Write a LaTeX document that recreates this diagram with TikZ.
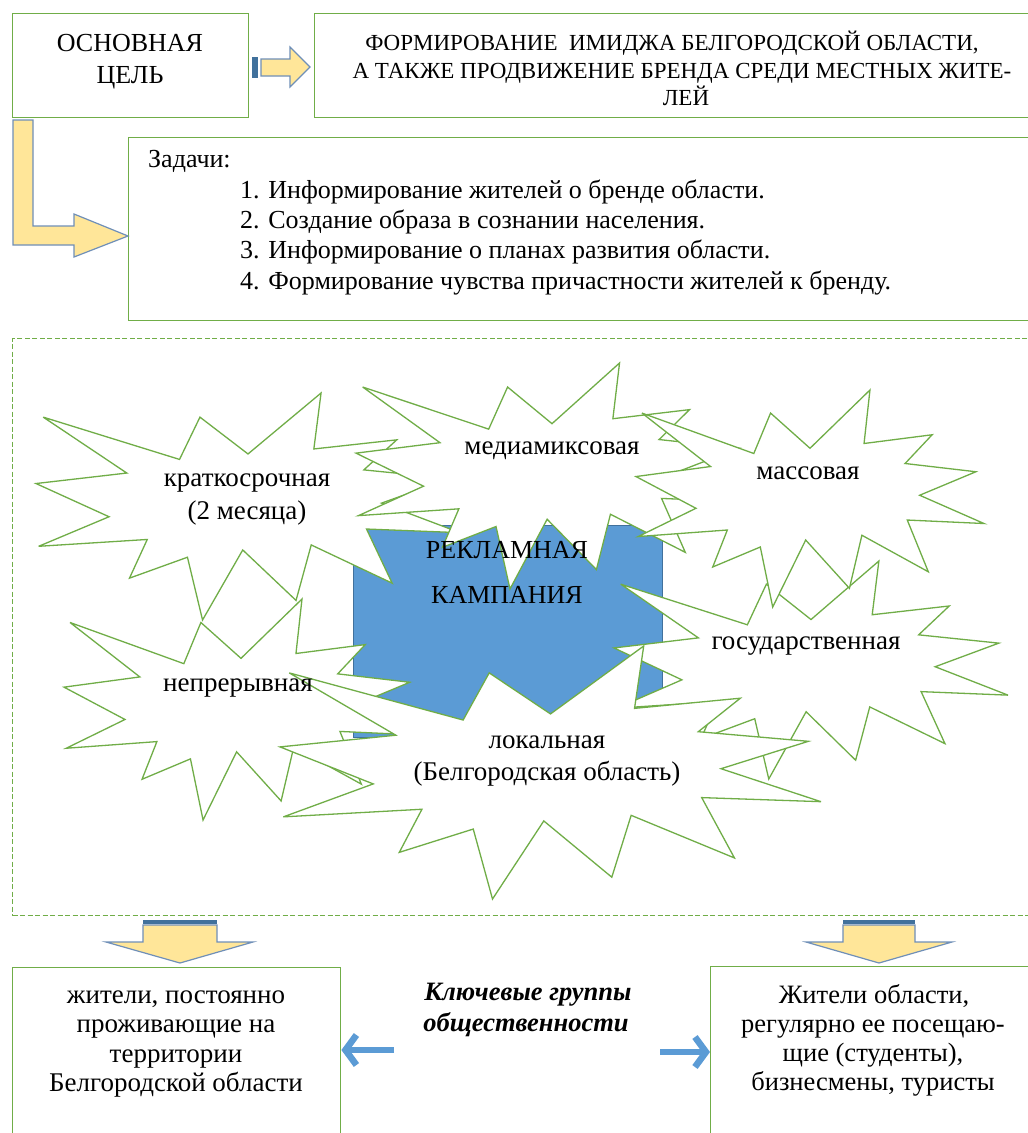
\documentclass[tikz,border=0pt]{standalone}
\usepackage{fontspec}
\setmainfont{Liberation Serif}
\usetikzlibrary{arrows.meta}
\definecolor{grn}{HTML}{70AD47}
\definecolor{bluefill}{HTML}{5B9BD5}
\definecolor{blueedge}{HTML}{41719C}
\definecolor{yel}{HTML}{FFE699}
\definecolor{arredge}{HTML}{6F8FB8}
\newcommand\boomshape[4]{%
 \begin{scope}[shift={(#1,#2)},xscale=#3/100,yscale=#4/100]
 \filldraw[starst] (50,26.85) -- (67.23,0) -- (65.53,24.65) -- (85.09,20.63) -- (77.32,33.87) -- (97.67,37.67) -- (81.51,48.50) -- (100,61.53) -- (77.95,59.92) -- (84.00,83.77) -- (64.91,66.93) -- (61.33,91.38) -- (48.76,69.14) -- (39.28,100) -- (35.72,72.35) -- (22.05,81.56) -- (26.24,64.52) -- (0.63,67.53) -- (17.23,54.51) -- (0,39.88) -- (21.42,35.26) -- (1.71,10.63) -- (33.85,29.26) -- (38.67,10.63) -- cycle;
 \end{scope}}
\tikzset{
 starst/.style={draw=grn, fill=white, line width=1.3pt, line join=miter, miter limit=6},
 gbox/.style={draw=grn, line width=1.4pt, fill=white, inner sep=0pt, anchor=north west},
 txt/.style={inner sep=0pt, anchor=base, font=\fontsize{27}{30}\selectfont},
 txtl/.style={inner sep=0pt, anchor=base west, font=\fontsize{26}{30}\selectfont},
 bigarr/.style={fill=yel, draw=arredge, line width=1.2pt, line join=miter},
 stripe/.style={fill=blueedge},
 bluearr/.style={draw=bluefill, line width=6.5pt, -{Straight Barb[length=11pt,width=30pt]}},
}
\begin{document}
\begin{tikzpicture}[x=1pt,y=-1pt]
\useasboundingbox (0,0) rectangle (1028,1133);
\clip (0,0) rectangle (1028,1133);
\fill[white] (0,0) rectangle (1028,1133);
% top boxes
\node[gbox, minimum width=236pt, minimum height=104pt] (goal) at (12,13) {};
\node[gbox, minimum width=730pt, minimum height=104pt] (aim) at (314,13) {};
\node[gbox, minimum width=915pt, minimum height=183pt] (tasks) at (128,137) {};
% striped right arrow
\fill[stripe] (252,57) rectangle (258,78);
\filldraw[bigarr] (261,59) -- (290,59) -- (290,47) -- (310,67) -- (290,87) -- (290,76) -- (261,76) -- cycle;
% bent arrow
\filldraw[bigarr] (13,120) -- (33,120) -- (33,226) -- (74,226) -- (74,214) -- (128,236) -- (74,257) -- (74,245) -- (13,245) -- cycle;
% dashed frame
\node[draw=grn, line width=1.3pt, dash pattern=on 5pt off 2.5pt, minimum width=1040pt, minimum height=577pt, inner sep=0pt, anchor=north west] (frame) at (12,338) {};
% campaign rectangle
\node[draw=blueedge, fill=bluefill, line width=1pt, minimum width=309pt, minimum height=212pt, inner sep=0pt, anchor=north west] (rk) at (353,525) {};
% explosions
\boomshape{36}{393}{424}{227}
\boomshape{356}{363}{392}{226}
\boomshape{64}{599}{354}{221}
\boomshape{614}{561}{394}{218}
\boomshape{636}{390}{348}{217}
\boomshape{280}{646}{541}{253}
% down arrows
\fill[stripe] (143,920) rectangle (217,924);
\filldraw[bigarr] (143,925) -- (217,925) -- (217,942) -- (253,942) -- (180,963) -- (106,942) -- (143,942) -- cycle;
\fill[stripe] (843,920) rectangle (915,924);
\filldraw[bigarr] (843,925) -- (915,925) -- (915,942) -- (952,942) -- (879,963) -- (806,942) -- (843,942) -- cycle;
% bottom boxes
\node[gbox, minimum width=328pt, minimum height=170pt] (lbox) at (12,967) {};
\node[gbox, minimum width=340pt, minimum height=180pt] (rbox) at (710,966) {};
% texts
\node[txt, font=\fontsize{26}{30}\selectfont] (g1) at (130,51) {ОСНОВНАЯ};
\node[txt, font=\fontsize{26}{30}\selectfont] (g2) at (130,83) {ЦЕЛЬ};
\node[txt, font=\fontsize{23}{28}\selectfont] (a1) at (672,50) {ФОРМИРОВАНИЕ\ \ ИМИДЖА БЕЛГОРОДСКОЙ ОБЛАСТИ,};
\node[txt, font=\fontsize{23}{28}\selectfont] (a2) at (682,78) {А ТАКЖЕ ПРОДВИЖЕНИЕ БРЕНДА СРЕДИ МЕСТНЫХ ЖИТЕ-};
\node[txt, font=\fontsize{23}{28}\selectfont] (a3) at (686,105) {ЛЕЙ};
\node[txtl] (t0) at (148,167) {Задачи:};
\node[txtl] (t1) at (240,198) {1. Информирование жителей о бренде области.};
\node[txtl] (t2) at (240,228) {2. Создание образа в сознании населения.};
\node[txtl] (t3) at (240,258) {3. Информирование о планах развития области.};
\node[txtl] (t4) at (240,289) {4. Формирование чувства причастности жителей к бренду.};
\node[txt] (s1a) at (247,486) {краткосрочная};
\node[txt] (s1b) at (247,519) {(2 месяца)};
\node[txt] (s2) at (552,454) {медиамиксовая};
\node[txt] (s3) at (808,479) {массовая};
\node[txt] (s4) at (238,691) {непрерывная};
\node[txt] (s5) at (806,649) {государственная};
\node[txt] (s6a) at (547,748) {локальная};
\node[txt] (s6b) at (547,780) {(Белгородская область)};
\node[txt, font=\fontsize{26}{30}\selectfont] (rk1) at (507,558) {РЕКЛАМНАЯ};
\node[txt, font=\fontsize{26}{30}\selectfont] (rk2) at (507,603) {КАМПАНИЯ};
\node[txt, font=\fontsize{26.5}{30}\bfseries\itshape\selectfont] (kg1) at (528,1000) {Ключевые группы};
\node[txt, font=\fontsize{26.5}{30}\bfseries\itshape\selectfont] (kg2) at (526,1031) {общественности};
\node[txt] (l1) at (176,1003) {жители, постоянно};
\node[txt] (l2) at (176,1032) {проживающие на};
\node[txt] (l3) at (176,1062) {территории};
\node[txt] (l4) at (176,1091) {Белгородской области};
\node[txt, font=\fontsize{26.5}{30}\selectfont] (r1) at (874,1003) {Жители области,};
\node[txt, font=\fontsize{26.5}{30}\selectfont] (r2) at (873,1032) {регулярно ее посещаю-};
\node[txt, font=\fontsize{26.5}{30}\selectfont] (r3) at (873,1061) {щие (студенты),};
\node[txt, font=\fontsize{26.5}{30}\selectfont] (r4) at (873,1090) {бизнесмены, туристы};
% connectors
\coordinate (ls) at (394,1050);
\coordinate (rs) at (660,1052);
\draw[bluearr] (ls) -- (lbox.east |- ls);
\draw[bluearr] (rs) -- (rbox.west |- rs);
\end{tikzpicture}
\end{document}
